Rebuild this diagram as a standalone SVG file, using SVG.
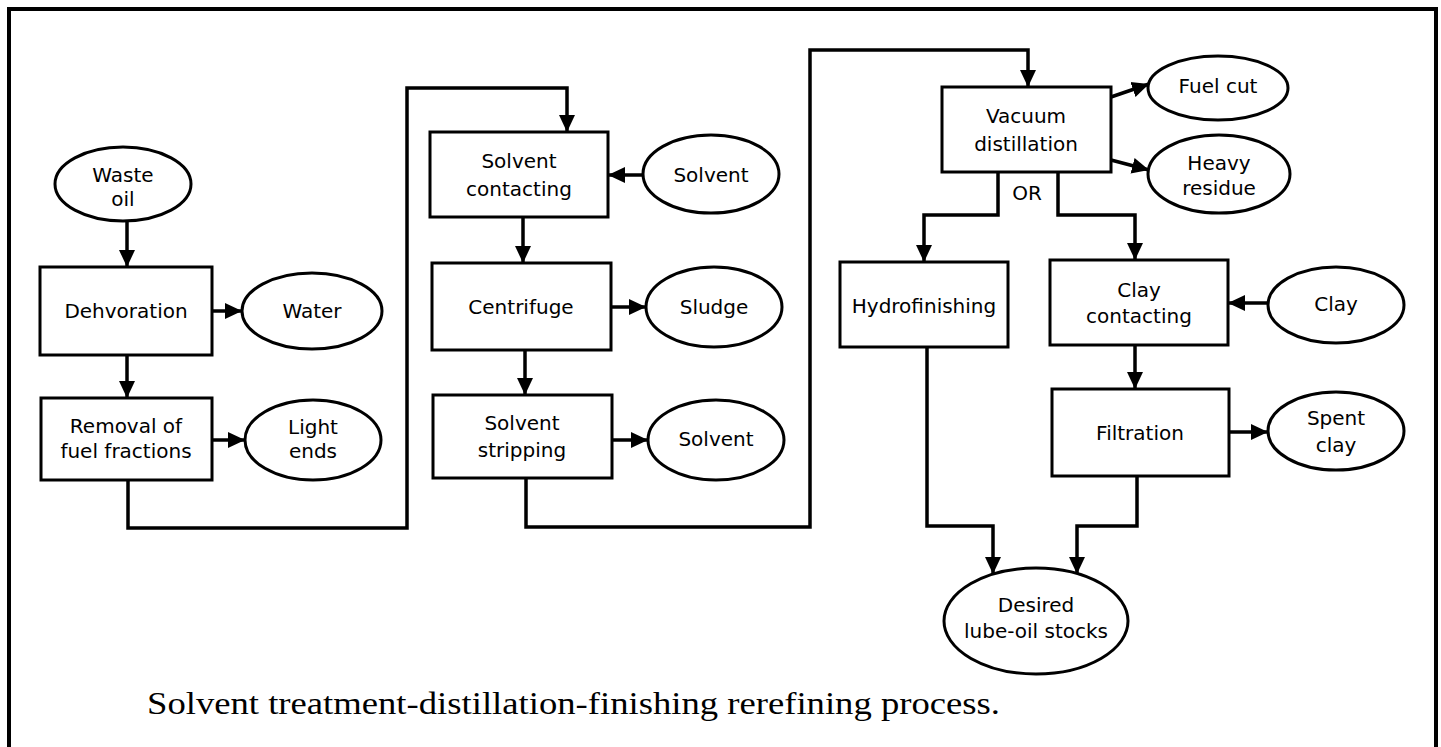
<svg xmlns="http://www.w3.org/2000/svg" width="1441" height="747" viewBox="0 0 1441 747">
<defs>
<style>
.box{fill:#fff;stroke:#000;stroke-width:3}
.ell{fill:#fff;stroke:#000;stroke-width:3}
.lbl{font-family:"DejaVu Sans",Verdana,sans-serif;font-size:20px;fill:#000;text-anchor:middle}
.con{fill:none;stroke:#000;stroke-width:3.5;marker-end:url(#ah)}
.cap{font-family:"Liberation Serif","Times New Roman",serif;font-size:32px;fill:#000}
</style>
<marker id="ah" markerUnits="userSpaceOnUse" markerWidth="18" markerHeight="18" viewBox="0 0 18 18" refX="17" refY="9" orient="auto">
<path d="M0,1 L17,9 L0,17 Z" fill="#000"/>
</marker>
</defs>
<rect width="1441" height="747" fill="#fff"/>
<path d="M9,750 V9 H1436 V750" fill="none" stroke="#000" stroke-width="4"/>

<g id="connectors">
<path class="con" d="M127,222 V267"/>
<path class="con" d="M212,311 H242"/>
<path class="con" d="M127,355 V398"/>
<path class="con" d="M212,440 H245"/>
<path class="con" d="M128,480 V528 H407 V88 H567 V132"/>
<path class="con" d="M643,175 H608"/>
<path class="con" d="M523,217 V263"/>
<path class="con" d="M611,307 H646"/>
<path class="con" d="M525,350 V395"/>
<path class="con" d="M612,440 H648"/>
<path class="con" d="M526,478 V527 H810 V50 H1028 V87"/>
<path class="con" d="M1111,97 L1149,84"/>
<path class="con" d="M1111,160 L1149,170"/>
<path class="con" d="M998,172 V215 H924 V262"/>
<path class="con" d="M1058,172 V215 H1135 V260"/>
<path class="con" d="M1268,303 H1228"/>
<path class="con" d="M1135,345 V389"/>
<path class="con" d="M1229,432 H1268"/>
<path class="con" d="M927,347 V526 H993 V574"/>
<path class="con" d="M1137,476 V526 H1077 V574"/>
</g>

<g id="waste-oil"><ellipse class="ell" cx="123" cy="184" rx="68" ry="37"/><text class="lbl" x="123" y="182">Waste</text><text class="lbl" x="123" y="206">oil</text></g>
<g id="dehvoration"><rect class="box" x="40" y="267" width="172" height="88"/><text class="lbl" x="126" y="318">Dehvoration</text></g>
<g id="water"><ellipse class="ell" cx="312" cy="311" rx="70" ry="38"/><text class="lbl" x="312" y="318">Water</text></g>
<g id="removal"><rect class="box" x="41" y="398" width="171" height="82"/><text class="lbl" x="126" y="433">Removal of</text><text class="lbl" x="126" y="458">fuel fractions</text></g>
<g id="light-ends"><ellipse class="ell" cx="313" cy="440" rx="68" ry="40"/><text class="lbl" x="313" y="434">Light</text><text class="lbl" x="313" y="458">ends</text></g>

<g id="solvent-contacting"><rect class="box" x="430" y="132" width="178" height="85"/><text class="lbl" x="519" y="168">Solvent</text><text class="lbl" x="519" y="196">contacting</text></g>
<g id="solvent-in"><ellipse class="ell" cx="711" cy="174" rx="68" ry="39"/><text class="lbl" x="711" y="182">Solvent</text></g>
<g id="centrifuge"><rect class="box" x="432" y="263" width="179" height="87"/><text class="lbl" x="521" y="314">Centrifuge</text></g>
<g id="sludge"><ellipse class="ell" cx="714" cy="307" rx="68" ry="40"/><text class="lbl" x="714" y="314">Sludge</text></g>
<g id="solvent-stripping"><rect class="box" x="433" y="395" width="179" height="83"/><text class="lbl" x="522" y="430">Solvent</text><text class="lbl" x="522" y="457">stripping</text></g>
<g id="solvent-out"><ellipse class="ell" cx="716" cy="440" rx="68" ry="40"/><text class="lbl" x="716" y="446">Solvent</text></g>

<g id="vacuum-distillation"><rect class="box" x="942" y="87" width="169" height="85"/><text class="lbl" x="1026" y="123">Vacuum</text><text class="lbl" x="1026" y="151">distillation</text></g>
<g id="fuel-cut"><ellipse class="ell" cx="1218" cy="88" rx="70" ry="32"/><text class="lbl" x="1218" y="93">Fuel cut</text></g>
<g id="heavy-residue"><ellipse class="ell" cx="1219" cy="174" rx="71" ry="39"/><text class="lbl" x="1219" y="170">Heavy</text><text class="lbl" x="1219" y="195">residue</text></g>
<g id="or-label"><text class="lbl" x="1027" y="200">OR</text></g>
<g id="hydrofinishing"><rect class="box" x="840" y="262" width="168" height="85"/><text class="lbl" x="924" y="313">Hydrofinishing</text></g>
<g id="clay-contacting"><rect class="box" x="1050" y="260" width="178" height="85"/><text class="lbl" x="1139" y="297">Clay</text><text class="lbl" x="1139" y="323">contacting</text></g>
<g id="clay"><ellipse class="ell" cx="1336" cy="305" rx="68" ry="38"/><text class="lbl" x="1336" y="311">Clay</text></g>
<g id="filtration"><rect class="box" x="1052" y="389" width="177" height="87"/><text class="lbl" x="1140" y="440">Filtration</text></g>
<g id="spent-clay"><ellipse class="ell" cx="1336" cy="431" rx="68" ry="39"/><text class="lbl" x="1336" y="425">Spent</text><text class="lbl" x="1336" y="452">clay</text></g>
<g id="desired"><ellipse class="ell" cx="1036" cy="621" rx="92" ry="53"/><text class="lbl" x="1036" y="612">Desired</text><text class="lbl" x="1036" y="638">lube-oil stocks</text></g>

<text class="cap" x="147" y="714" textLength="853" lengthAdjust="spacingAndGlyphs">Solvent treatment-distillation-finishing rerefining process.</text>
</svg>
